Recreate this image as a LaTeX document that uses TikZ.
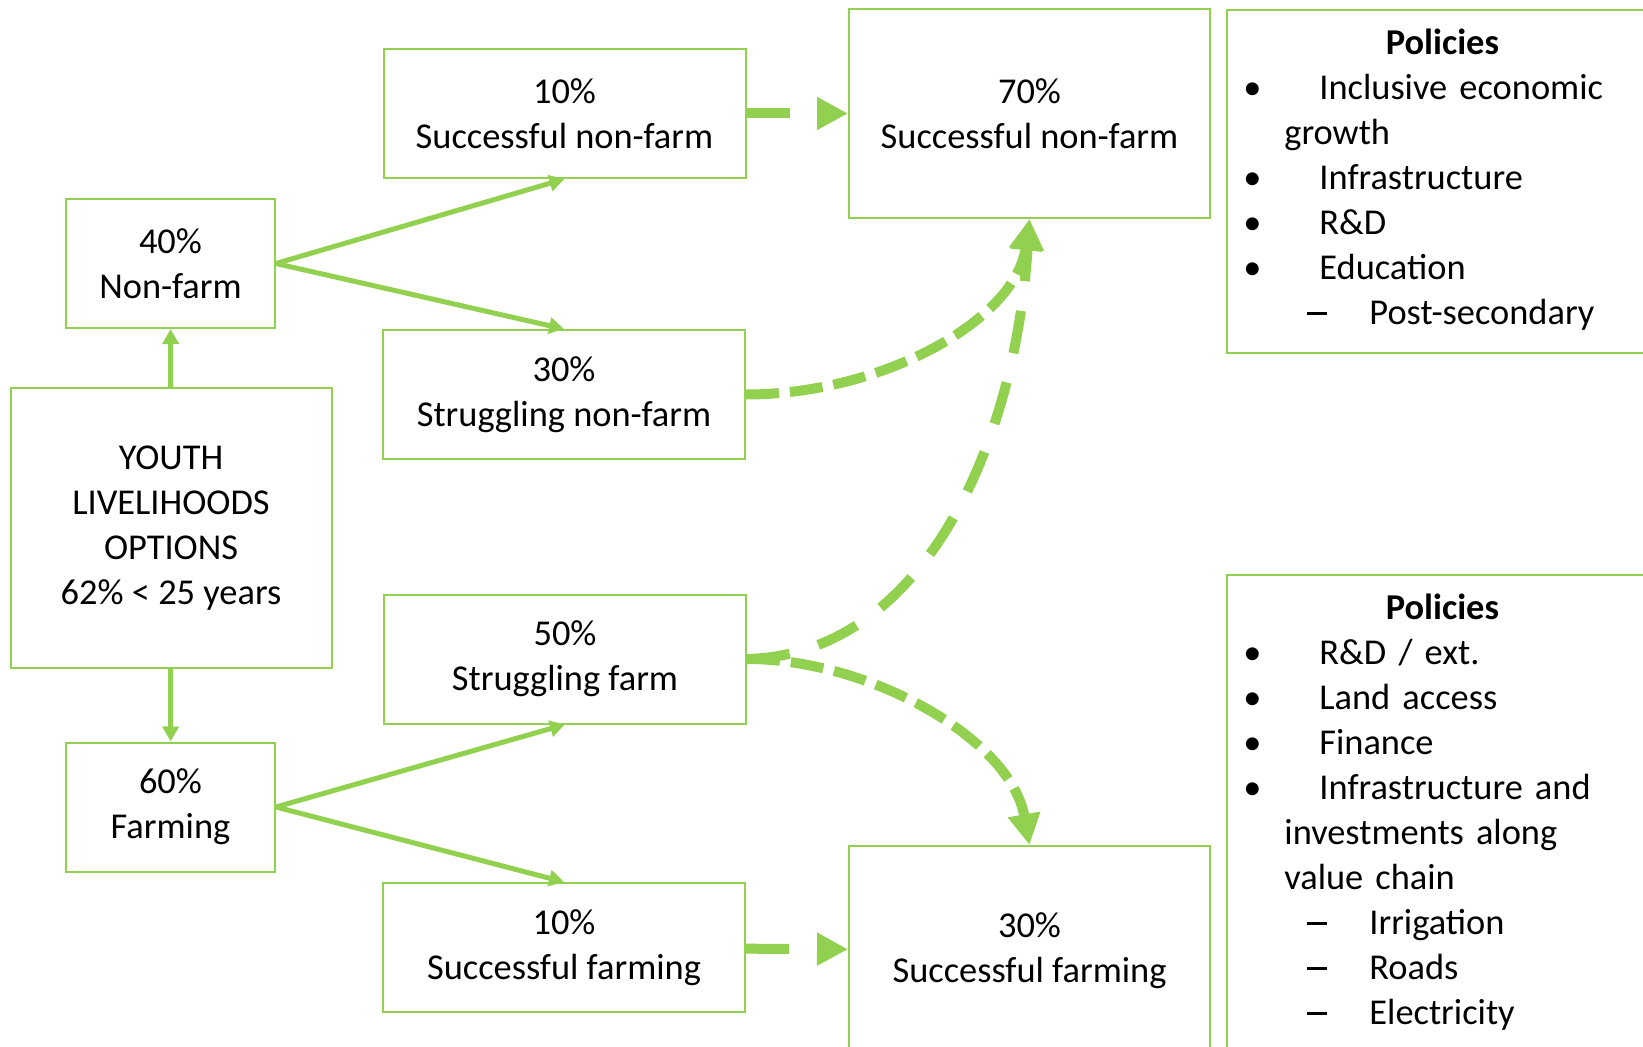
\documentclass[tikz,border=0pt]{standalone}
\usepackage{fontspec}
\setmainfont{Carlito}
\usepackage{tikz}
\usetikzlibrary{arrows.meta}

\definecolor{leaf}{HTML}{92D050}
\newcommand\pbul{\makebox[46.5pt][l]{\hspace*{8.5pt}\textbullet}}
\newcommand\pdash{\makebox[71.5pt][l]{\hspace*{40.5pt}\rule[4.8pt]{10pt}{1.4pt}}}
\newcommand\pcont{\hspace*{29pt}}

\begin{document}
\begin{tikzpicture}[x=0.5pt,y=-0.5pt,
	every node/.style={font=\fontsize{18.2}{22.5}\selectfont},
	box/.style={draw=leaf, line width=1pt, align=center, inner sep=0pt},
	small/.style={box, minimum width=104.5pt, minimum height=64.5pt},
	wide/.style={box, minimum width=181pt, minimum height=64.5pt},
	big/.style={box, minimum width=180.5pt, minimum height=104.5pt},
	policy/.style={draw=leaf, line width=1pt, minimum width=216pt, inner sep=0pt},
	bullets/.style={align=left, text width=216pt, inner sep=0pt, anchor=north west},
	split/.style={leaf, line width=2.5pt, -{Triangle[length=7.5pt,width=8pt]}},
	jump/.style={leaf, line width=5pt, dash pattern=on 21.5pt off 15pt, -{Triangle[length=15.5pt,width=15.5pt]}},
	drift/.style={jump, dash pattern=on 16.5pt off 5.5pt}]
	\useasboundingbox (0,0) rectangle (1643,1047);
	\clip (0,0) rectangle (1643,1047);

	% start
	\node[box, minimum width=160.5pt, minimum height=140pt] (youth) at (171,528) {YOUTH\\LIVELIHOODS\\OPTIONS\\62\% < 25 years};
	\node[small] (nonfarm) at (170.5,263.5) {40\%\\Non-farm};
	\node[small] (farming) at (170.5,807) {60\%\\Farming};

	% split
	\node[wide] (sucnf) at (564.5,113.5) {10\%\\Successful non-farm};
	\node[wide] (strnf) at (564,394.5) {30\%\\Struggling non-farm};
	\node[wide] (strf) at (565,659) {50\%\\Struggling farm};
	\node[wide] (sucf) at (564,947.5) {10\%\\Successful farming};

	% outcomes
	\node[big] (goalnf) at (1029.5,113.5) {70\%\\Successful non-farm};
	\node[big] (goalf) at (1029.5,950.5) {30\%\\Successful farming};

	% policies
	\node[policy, minimum height=171.5pt] (polnf) at (1443,181.5) {};
	\node[bullets] (polnftext) at ([shift={(0,13.5)}]polnf.north west) {\strut\makebox[\linewidth]{\bfseries Policies}\\
		\pbul Inclusive economic\\
		\pcont growth\\
		\pbul Infrastructure\\
		\pbul R\&D\\
		\pbul Education\\
		\pdash Post-secondary};
	\node[policy, minimum height=242.5pt] (polf) at (1443,817.5) {};
	\node[bullets] (polftext) at ([shift={(0,13.5)}]polf.north west) {\strut\makebox[\linewidth]{\bfseries Policies}\\
		\pbul R\&D / ext.\\
		\pbul Land access\\
		\pbul Finance\\
		\pbul Infrastructure and\\
		\pcont investments along\\
		\pcont value chain\\
		\pdash Irrigation\\
		\pdash Roads\\
		\pdash Electricity};

	\draw[split] (youth) -- (nonfarm);
	\draw[split] (youth) -- (farming);
	\draw[split] (nonfarm.east) -- (sucnf.south);
	\draw[split] (nonfarm.east) -- (strnf.north);
	\draw[split] (farming.east) -- (strf.south);
	\draw[split] (farming.east) -- (sucf.north);

	\draw[jump] (sucnf) -- (goalnf);
	\draw[jump] (sucf) -- (goalf);
	\draw[drift] (strnf.east) .. controls +(135,0) and +(-14,102) .. (goalnf.south);
	\draw[jump] (strf.east) .. controls +(173,-4) and +(-15,232) .. (goalnf.south);
	\draw[drift] (strf.east) .. controls +(123,0) and +(-19,-106) .. (goalf.north);
\end{tikzpicture}
\end{document}
